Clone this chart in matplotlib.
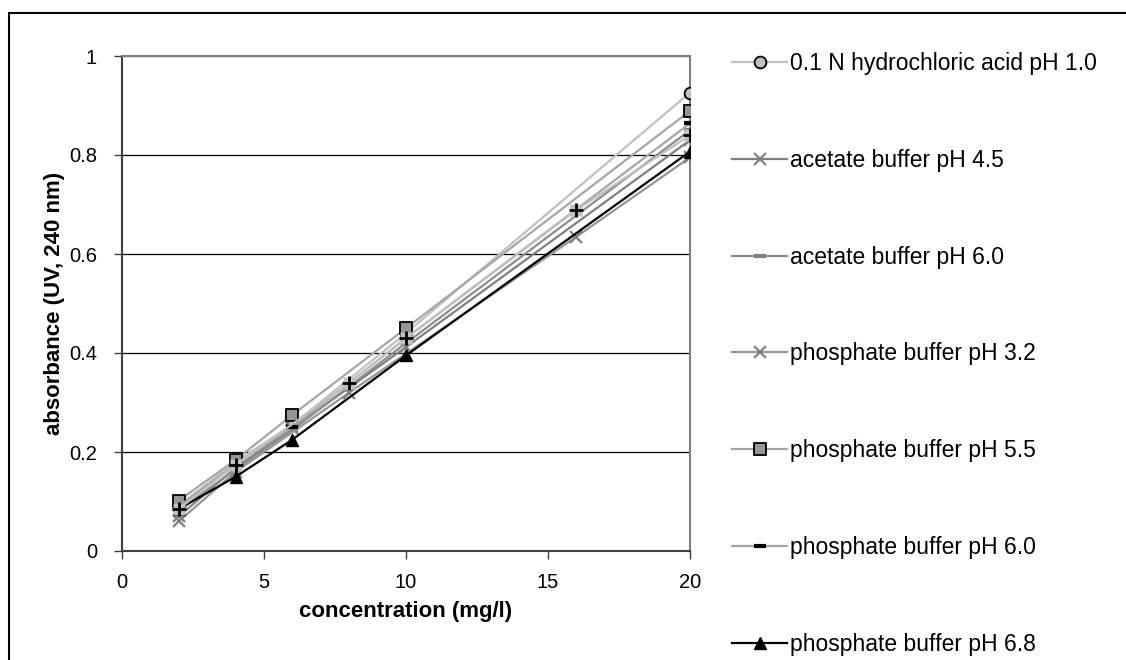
import matplotlib
matplotlib.use("Agg")
import matplotlib.pyplot as plt
from matplotlib.patches import Rectangle

# concentration (mg/l) and absorbance readings per medium
conc_std = [2, 4, 6, 10, 20]
conc_alt = [2, 4, 8, 16, 20]
conc_plus = [2, 4, 8, 10, 16, 20]

hcl_10 = [0.092, 0.180, 0.255, 0.440, 0.926]
acetate_45 = [0.070, 0.168, 0.248, 0.412, 0.830]
acetate_60 = [0.082, 0.165, 0.245, 0.420, 0.850]
phosphate_32 = [0.060, 0.160, 0.320, 0.635, 0.795]
phosphate_55 = [0.102, 0.184, 0.275, 0.450, 0.889]
phosphate_60 = [0.090, 0.175, 0.250, 0.430, 0.864]
phosphate_68 = [0.085, 0.150, 0.225, 0.395, 0.807]
extra_plus = [0.085, 0.174, 0.339, 0.430, 0.689, 0.840]

labels = [
    "0.1 N hydrochloric acid pH 1.0",
    "acetate buffer pH 4.5",
    "acetate buffer pH 6.0",
    "phosphate buffer pH 3.2",
    "phosphate buffer pH 5.5",
    "phosphate buffer pH 6.0",
    "phosphate buffer pH 6.8",
]

plt.rcParams["font.family"] = ["Liberation Sans", "DejaVu Sans"]

fig = plt.figure(figsize=(11.26, 6.6), dpi=100)
ax = fig.add_axes([122 / 1126, 1 - 551 / 660, 568 / 1126, 495 / 660])

lw = 1.6
ms = 8.5
ax.plot(conc_std, hcl_10, color="#c0c0c0", lw=lw, marker="o", ms=ms,
        mfc="#c0c0c0", mec="black", mew=1.3, label=labels[0], zorder=3)
ax.plot(conc_std, acetate_45, color="#808080", lw=lw, marker="x", ms=ms,
        mec="#808080", mew=1.6, label=labels[1], zorder=3)
ax.plot(conc_std, acetate_60, color="#8c8c8c", lw=lw, marker="_", ms=ms,
        mec="#808080", mew=3, label=labels[2], zorder=3)
ax.plot(conc_alt, phosphate_32, color="#969696", lw=lw, marker="x", ms=ms,
        mec="#808080", mew=1.6, label=labels[3], zorder=3)
ax.plot(conc_std, phosphate_55, color="#a6a6a6", lw=lw, marker="s", ms=ms,
        mfc="#969696", mec="black", mew=1.3, label=labels[4], zorder=3)
ax.plot(conc_std, phosphate_60, color="#a6a6a6", lw=lw, marker="_", ms=ms,
        mec="black", mew=3, label=labels[5], zorder=3)
ax.plot(conc_std, phosphate_68, color="black", lw=lw, marker="^", ms=ms,
        mfc="black", mec="black", label=labels[6], zorder=3)
# plus markers sit on a light grey box
ax.plot(conc_plus, extra_plus, color="#c0c0c0", lw=lw, marker="s", ms=ms,
        mfc="#c0c0c0", mec="none", zorder=3)
ax.plot(conc_plus, extra_plus, ls="none", marker="+", ms=ms + 1,
        mec="black", mew=2, zorder=4)

ax.set_xlim(0, 20)
ax.set_ylim(0, 1)
ax.set_xticks([0, 5, 10, 15, 20])
ax.set_yticks([0, 0.2, 0.4, 0.6, 0.8, 1])
ax.set_yticklabels(["0", "0.2", "0.4", "0.6", "0.8", "1"])
ax.tick_params(labelsize=14.5, length=6, width=1, color="#404040")
ax.tick_params(axis="x", pad=10)
ax.tick_params(axis="y", pad=12)
ax.yaxis.grid(True, color="black", lw=0.9)
ax.set_axisbelow(True)

for side in ["top", "right"]:
    ax.spines[side].set_color("#808080")
    ax.spines[side].set_linewidth(1.5)
for side in ["left", "bottom"]:
    ax.spines[side].set_color("#404040")
    ax.spines[side].set_linewidth(1.5)

ax.set_xlabel("concentration (mg/l)", fontsize=16, fontweight="bold", labelpad=6)
ax.set_ylabel("absorbance (UV, 240 nm)", fontsize=16, fontweight="bold", labelpad=3)

ax.legend(loc="upper left", bbox_to_anchor=(732 / 1126, 1 - 52 / 660),
          bbox_transform=fig.transFigure, frameon=False, fontsize=16.5,
          labelspacing=3.22, handlelength=2.4, handletextpad=0.15,
          borderpad=0, borderaxespad=0)

# outer chart frame
fig.add_artist(Rectangle((9 / 1126, -0.5), 1.5, 0.5 + 1 - 13 / 660,
                         transform=fig.transFigure, fill=False,
                         edgecolor="black", lw=1.5))

fig.savefig("out.png", dpi=100)
